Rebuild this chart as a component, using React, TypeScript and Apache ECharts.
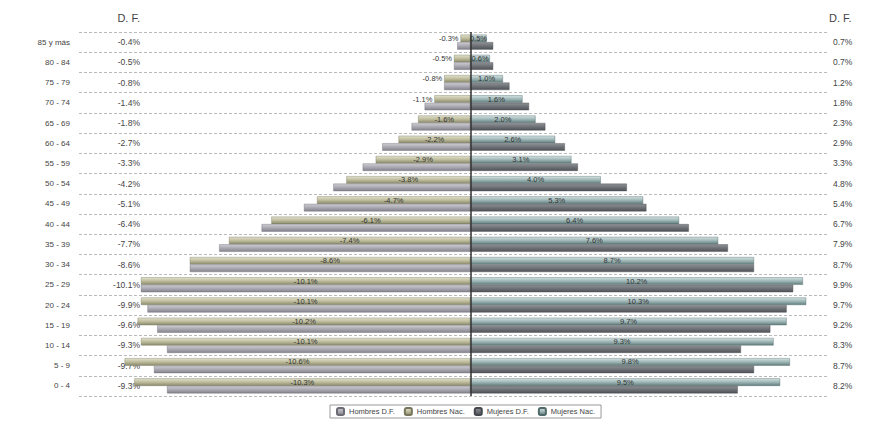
import React, { useEffect, useRef } from "react";
import * as echarts from "echarts";

// Age groups, bottom to top
const ages = [
  "0 - 4", "5 - 9", "10 - 14", "15 - 19", "20 - 24", "25 - 29", "30 - 34", "35 - 39", "40 - 44",
  "45 - 49", "50 - 54", "55 - 59", "60 - 64", "65 - 69", "70 - 74", "75 - 79", "80 - 84", "85 y más",
];

// Share of population by age group (%), men drawn as negative values
const hombresNac = [-10.3, -10.6, -10.1, -10.2, -10.1, -10.1, -8.6, -7.4, -6.1, -4.7, -3.8, -2.9, -2.2, -1.6, -1.1, -0.8, -0.5, -0.3];
const mujeresNac = [9.5, 9.8, 9.3, 9.7, 10.3, 10.2, 8.7, 7.6, 6.4, 5.3, 4.0, 3.1, 2.6, 2.0, 1.6, 1.0, 0.6, 0.5];
const hombresDF = [-9.3, -9.7, -9.3, -9.6, -9.9, -10.1, -8.6, -7.7, -6.4, -5.1, -4.2, -3.3, -2.7, -1.8, -1.4, -0.8, -0.5, -0.4];
const mujeresDF = [8.2, 8.7, 8.3, 9.2, 9.7, 9.9, 8.7, 7.9, 6.7, 5.4, 4.8, 3.3, 2.9, 2.3, 1.8, 1.2, 0.7, 0.7];

const seriesNames = ["Hombres D.F.", "Hombres Nac.", "Mujeres D.F.", "Mujeres Nac."];

const pct = (v: number) => `${v.toFixed(1)}%`;
const FONT = "Arial, 'Liberation Sans', sans-serif";

const grad = (stops: string[]) =>
  new echarts.graphic.LinearGradient(
    0, 0, 0, 1,
    stops.map((c, i) => ({ offset: i / (stops.length - 1), color: c }))
  );

export default function App() {
  const ref = useRef<HTMLDivElement>(null);

  useEffect(() => {
    if (!ref.current) return;
    const chart = echarts.init(ref.current, null, { renderer: "svg" });

    const innerLabel = {
      show: true,
      position: "inside" as const,
      fontSize: 7.5,
      fontFamily: FONT,
      color: "#333",
      formatter: (p: any) => pct(p.value),
    };

    // short men's bars carry their label just outside, to the left
    const menNacData = hombresNac.map((v) => ({
      value: v,
      label: { position: Math.abs(v) < 1.2 ? ("left" as const) : ("inside" as const), distance: 2 },
    }));

    chart.setOption({
      animation: false,
      backgroundColor: "#fff",
      grid: { left: 79, right: 44, top: 32, bottom: 28 },
      legend: {
        data: seriesNames,
        bottom: 6,
        left: 330,
        itemWidth: 7,
        itemHeight: 7,
        itemGap: 9,
        padding: [2, 6],
        borderColor: "#999",
        borderWidth: 1,
        textStyle: { fontSize: 7.5, fontFamily: FONT, color: "#444" },
      },
      xAxis: {
        type: "value",
        min: -12,
        max: 11,
        show: false,
        splitLine: { show: false },
      },
      yAxis: [
        {
          type: "category",
          data: ages,
          position: "left",
          axisLine: { show: false },
          axisTick: { show: false },
          axisLabel: { margin: 9, fontSize: 8, fontFamily: FONT, color: "#444" },
          splitLine: { show: true, lineStyle: { color: "#bbb", type: [3, 2], width: 1 } },
        },
        {
          type: "category",
          data: ages,
          position: "left",
          offset: -61,
          name: "D. F.",
          nameLocation: "end",
          nameGap: 9,
          nameTextStyle: { fontSize: 11, fontFamily: FONT, color: "#444", align: "right" },
          axisLine: { show: false },
          axisTick: { show: false },
          splitLine: { show: false },
          axisLabel: {
            margin: 0,
            fontSize: 8.5,
            fontFamily: FONT,
            color: "#444",
            formatter: (_v: string, i: number) => pct(hombresDF[i]),
          },
        },
        {
          type: "category",
          data: ages,
          position: "right",
          offset: 0,
          name: "D. F.",
          nameLocation: "end",
          nameGap: 9,
          nameTextStyle: { fontSize: 11, fontFamily: FONT, color: "#444", align: "left" },
          axisLine: { show: false },
          axisTick: { show: false },
          splitLine: { show: false },
          axisLabel: {
            margin: 4,
            fontSize: 8.5,
            fontFamily: FONT,
            color: "#444",
            formatter: (_v: string, i: number) => pct(mujeresDF[i]),
          },
        },
      ],
      series: [
        {
          name: "Hombres Nac.",
          type: "bar",
          stack: "nac",
          data: menNacData,
          barCategoryGap: "26%",
          barGap: "0%",
          itemStyle: { color: grad(["#e2e1cd", "#bdbc9c", "#8a8a6c"]), borderColor: "#77765c", borderWidth: 0.4 },
          label: innerLabel,
        },
        {
          name: "Mujeres Nac.",
          type: "bar",
          stack: "nac",
          data: mujeresNac,
          itemStyle: { color: grad(["#d4e2e2", "#9fb6b6", "#627e7e"]), borderColor: "#4f6868", borderWidth: 0.4 },
          label: innerLabel,
        },
        {
          name: "Hombres D.F.",
          type: "bar",
          stack: "df",
          data: hombresDF,
          itemStyle: { color: grad(["#cfcdd3", "#aaa8b1", "#84828c"]), borderColor: "#6c6a74", borderWidth: 0.4 },
        },
        {
          name: "Mujeres D.F.",
          type: "bar",
          stack: "df",
          data: mujeresDF,
          itemStyle: { color: grad(["#8e9296", "#6e7277", "#4f5358"]), borderColor: "#44474c", borderWidth: 0.4 },
          markLine: {
            silent: true,
            symbol: "none",
            label: { show: false },
            lineStyle: { color: "#333", width: 1.5, type: "solid" },
            data: [{ xAxis: 0 }],
          },
        },
      ],
    });

    return () => chart.dispose();
  }, []);

  return (
    <div
      ref={ref}
      style={{ position: "fixed", left: 0, top: 0, width: 873, height: 424 }}
    />
  );
}
